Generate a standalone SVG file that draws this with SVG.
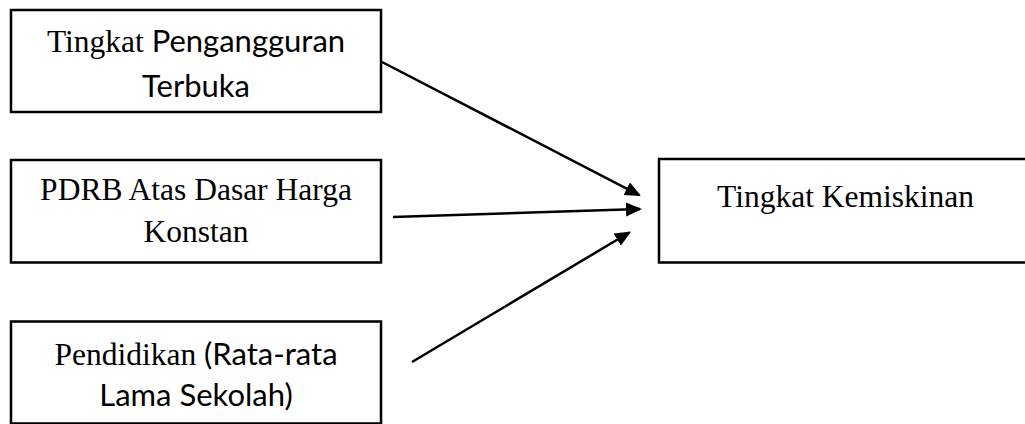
<svg xmlns="http://www.w3.org/2000/svg" width="1025" height="424" viewBox="0 0 1025 424">
<style>
.box{fill:#fff;stroke:#000;stroke-width:2.5}
.t{font-size:31.5px;fill:#000;text-anchor:middle}
.serif{font-family:"Liberation Serif","Times New Roman",serif}
.sans{font-family:Lato,"Open Sans",sans-serif;font-size:31px}
.conn{stroke:#000;stroke-width:2.5;fill:none;marker-end:url(#ah)}
</style>
<defs>
<marker id="ah" markerUnits="userSpaceOnUse" markerWidth="17" markerHeight="15" refX="14" refY="7" orient="auto" viewBox="0 0 17 15">
<path d="M0,0 L16,7 L0,14 z" fill="#000"/>
</marker>
</defs>
<rect width="1025" height="424" fill="#fff"/>
<g id="node-tpt">
<rect class="box" x="11" y="10" width="370" height="102"/>
<text class="t serif" x="196" y="52">Tingkat <tspan class="sans">Pengangguran</tspan></text>
<text class="t sans" x="196" y="97">Terbuka</text>
</g>
<g id="node-pdrb">
<rect class="box" x="11" y="160" width="370" height="102.5"/>
<text class="t serif" x="196" y="200">PDRB Atas Dasar Harga</text>
<text class="t serif" x="196" y="241.5">Konstan</text>
</g>
<g id="node-pendidikan">
<rect class="box" x="11" y="321.5" width="370" height="102"/>
<text class="t serif" x="196" y="364.5">Pendidikan <tspan class="sans">(Rata-rata</tspan></text>
<text class="t sans" x="196" y="406">Lama Sekolah)</text>
</g>
<g id="node-kemiskinan">
<rect class="box" x="659" y="159" width="380" height="103.5"/>
<text class="t serif" x="845.5" y="207">Tingkat Kemiskinan</text>
</g>
<g id="connectors">
<line class="conn" x1="382" y1="62" x2="639.2" y2="195.1"/>
<line class="conn" x1="393" y1="217" x2="640" y2="209.06"/>
<line class="conn" x1="412" y1="362" x2="629.3" y2="232.5"/>
</g>
</svg>
